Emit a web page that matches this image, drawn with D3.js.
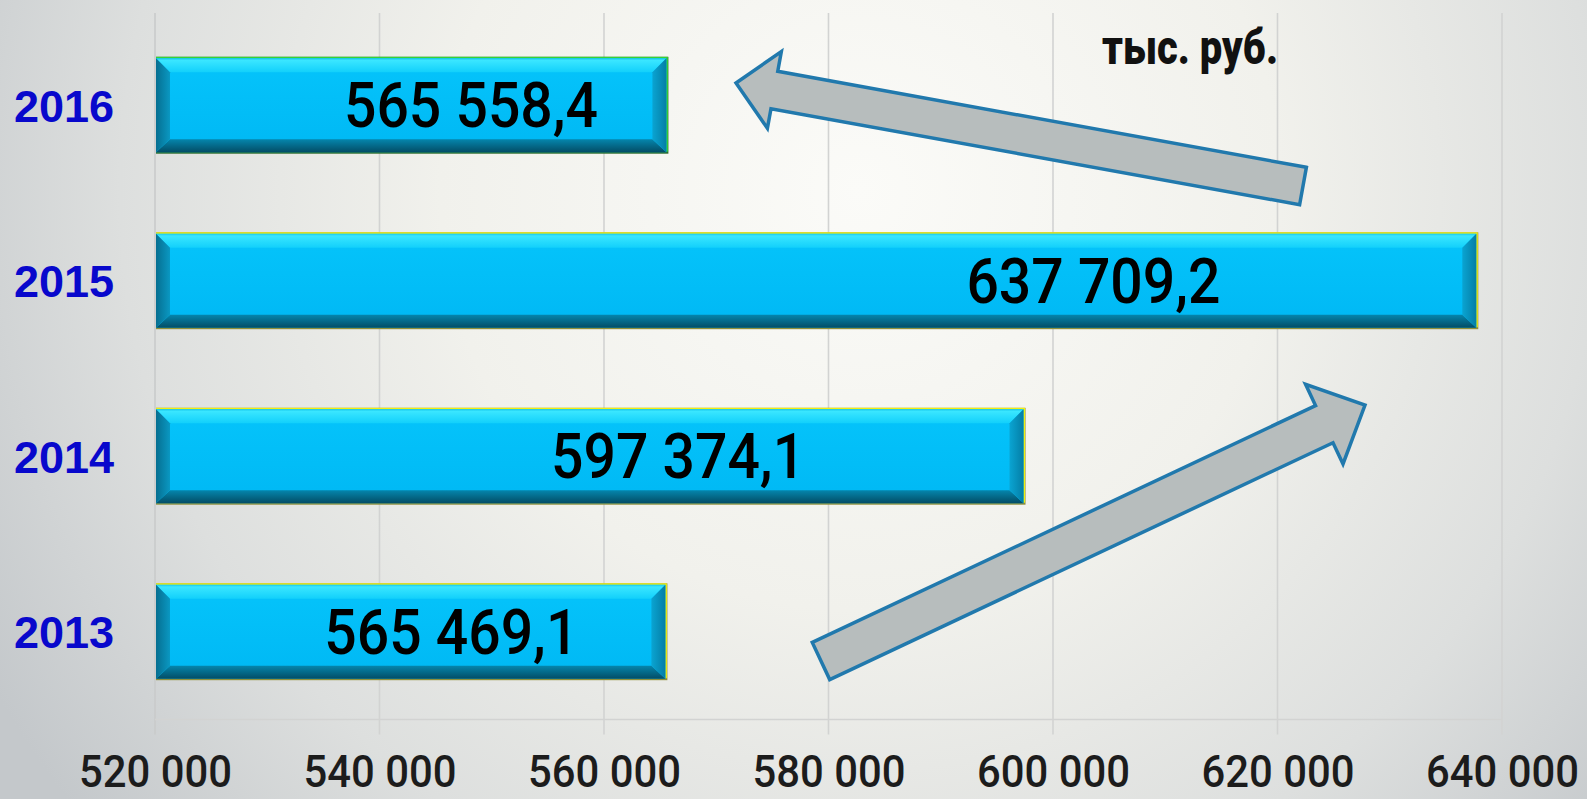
<!DOCTYPE html>
<html>
<head>
<meta charset="utf-8">
<script src="https://cdn.jsdelivr.net/npm/d3@7"></script>
<style>
  html, body { margin: 0; padding: 0; overflow: hidden; }
  svg { display: block; }
</style>
</head>
<body>
<svg id="chart"></svg>
<script>
// ─── Data ───────────────────────────────────────────────────────────────────

const years      = ['2016', '2015', '2014', '2013'];
const values     = [565558.4, 637709.2, 597374.1, 565469.1];
const tickValues = [520000, 540000, 560000, 580000, 600000, 620000, 640000];
const tickLabels = ['520 000', '540 000', '560 000', '580 000', '600 000', '620 000', '640 000'];
const unitLabel  = 'тыс. руб.';

// ─── Layout ─────────────────────────────────────────────────────────────────

const W = 1587;
const H = 799;

const LAYOUT = {
  plotLeft: 155, plotRight: 1502,
  plotTop: 17.5, plotBottom: 719.5,
  bandPadding: 0.465,
  bevel: 14,
  // value labels were placed by hand in the original, centre given in axis units
  labelCentre: { '2016': 548150, '2015': 603600, '2014': 566600, '2013': 546400 },
};

const NARROW = 'Roboto, "Liberation Sans", sans-serif';

// edge colours of the bars (top/right, bottom)
const EDGE = { '2016': ['#36d236', '#2c6c2c'] };
const EDGE_DEFAULT = ['#f2ee10', '#8f8f3a'];

const ruLocale = d3.formatLocale({ decimal: ',', thousands: '\u00a0', grouping: [3], currency: ['', ''] });
const fmt = ruLocale.format(',.1f');

// ─── Setup ──────────────────────────────────────────────────────────────────

const svg = d3.select('#chart').attr('width', W).attr('height', H);
const defs = svg.append('defs');

const bg = defs.append('radialGradient').attr('id', 'bg')
  .attr('gradientUnits', 'userSpaceOnUse')
  .attr('cx', 860).attr('cy', 190).attr('r', 1000);
bg.append('stop').attr('offset', 0).attr('stop-color', '#fbfbf8');
bg.append('stop').attr('offset', 0.42).attr('stop-color', '#f1f1ec');
bg.append('stop').attr('offset', 0.74).attr('stop-color', '#dddfde');
bg.append('stop').attr('offset', 1).attr('stop-color', '#c4c8cb');

function linGrad(id, stops, horizontal) {
  const g = defs.append('linearGradient').attr('id', id)
    .attr('x1', 0).attr('y1', 0)
    .attr('x2', horizontal ? 1 : 0).attr('y2', horizontal ? 0 : 1);
  stops.forEach(([o, c]) => g.append('stop').attr('offset', o).attr('stop-color', c));
}
linGrad('bevTop',    [[0, '#18c8ee'], [0.15, '#3ae6ff'], [1, '#12d0fb']]);
linGrad('bevBottom', [[0, '#0586ad'], [1, '#034d66']]);
linGrad('bevLeft',   [[0, '#066f91'], [1, '#0a98c2']], true);
linGrad('bevRight',  [[0, '#0aa4d2'], [1, '#047ea6']], true);
linGrad('face',      [[0, '#05c4fb'], [1, '#00b8f4']]);

svg.append('rect').attr('width', W).attr('height', H).attr('fill', 'url(#bg)');

// ─── Scales ─────────────────────────────────────────────────────────────────

const x = d3.scaleLinear()
  .domain([tickValues[0], tickValues[tickValues.length - 1]])
  .range([LAYOUT.plotLeft, LAYOUT.plotRight]);

const y = d3.scaleBand()
  .domain(years)
  .range([LAYOUT.plotTop, LAYOUT.plotBottom])
  .paddingInner(LAYOUT.bandPadding)
  .paddingOuter(LAYOUT.bandPadding / 2);

// ─── Grid ───────────────────────────────────────────────────────────────────

svg.append('g')
  .selectAll('line')
  .data(tickValues)
  .join('line')
  .attr('x1', d => x(d)).attr('x2', d => x(d))
  .attr('y1', 13).attr('y2', LAYOUT.plotBottom + 15)
  .attr('stroke', (d, i) => i === 0 ? '#c9cbcb' : '#d2d3d2')
  .attr('stroke-width', 1.6);

svg.append('line')
  .attr('x1', LAYOUT.plotLeft).attr('x2', LAYOUT.plotRight)
  .attr('y1', LAYOUT.plotBottom).attr('y2', LAYOUT.plotBottom)
  .attr('stroke', '#d2d3d2').attr('stroke-width', 1.6);

// ─── Axis labels ────────────────────────────────────────────────────────────

const xAxis = d3.axisBottom(x)
  .tickValues(tickValues)
  .tickFormat((d, i) => tickLabels[i])
  .tickSize(0)
  .tickPadding(0);

const axisG = svg.append('g').call(xAxis);
axisG.select('.domain').remove();
axisG.selectAll('text')
  .attr('y', 787).attr('dy', null)
  .attr('fill', '#1c1c1c')
  .attr('font-family', NARROW)
  .attr('font-weight', 500)
  .attr('font-size', 44)
  .attr('textLength', 153)
  .attr('lengthAdjust', 'spacingAndGlyphs');

const yAxis = d3.axisLeft(y).tickSize(0).tickPadding(0);
const yG = svg.append('g').call(yAxis);
yG.select('.domain').remove();
yG.selectAll('text')
  .attr('x', 114).attr('dy', null)
  .attr('y', 16.5)
  .attr('text-anchor', 'end')
  .attr('fill', '#0808cc')
  .attr('font-family', '"Liberation Sans", Arial, sans-serif')
  .attr('font-weight', 'bold')
  .attr('font-size', 45);

// ─── Bars ───────────────────────────────────────────────────────────────────

const b = LAYOUT.bevel;
const rows = years.map((yr, i) => ({ yr, v: values[i] }));

const bars = svg.append('g')
  .selectAll('g')
  .data(rows)
  .join('g');

bars.each(function (d) {
  const g = d3.select(this);
  const x0 = x(tickValues[0]) + 1, x1 = x(d.v);
  const y0 = y(d.yr), y1 = y0 + y.bandwidth();
  const [edgeTop, edgeBottom] = EDGE[d.yr] || EDGE_DEFAULT;
  const poly = pts => pts.map(p => p.join(',')).join(' ');

  // thin coloured rim
  g.append('rect')
    .attr('x', x0).attr('y', y0 - 1.5)
    .attr('width', x1 - x0 + 2).attr('height', y1 - y0 + 3)
    .attr('fill', edgeBottom);
  g.append('rect')
    .attr('x', x0).attr('y', y0 - 1.5)
    .attr('width', x1 - x0 + 1.5).attr('height', y1 - y0 + 1)
    .attr('fill', edgeTop);

  g.append('rect')
    .attr('x', x0).attr('y', y0)
    .attr('width', x1 - x0).attr('height', y1 - y0)
    .attr('fill', 'url(#face)');

  g.append('polygon').attr('fill', 'url(#bevTop)')
    .attr('points', poly([[x0, y0], [x1, y0], [x1 - b, y0 + b], [x0 + b, y0 + b]]));
  g.append('polygon').attr('fill', 'url(#bevBottom)')
    .attr('points', poly([[x0, y1], [x1, y1], [x1 - b, y1 - b + 1], [x0 + b, y1 - b + 1]]));
  g.append('polygon').attr('fill', 'url(#bevLeft)')
    .attr('points', poly([[x0, y0], [x0 + b, y0 + b], [x0 + b, y1 - b + 1], [x0, y1]]));
  g.append('polygon').attr('fill', 'url(#bevRight)')
    .attr('points', poly([[x1, y0], [x1 - b, y0 + b], [x1 - b, y1 - b + 1], [x1, y1]]));
});

// ─── Value labels ───────────────────────────────────────────────────────────

svg.append('g')
  .selectAll('text')
  .data(rows)
  .join('text')
  .attr('x', d => x(LAYOUT.labelCentre[d.yr]))
  .attr('y', d => y(d.yr) + y.bandwidth() / 2 + 22)
  .attr('text-anchor', 'middle')
  .attr('fill', '#000')
  .attr('font-family', NARROW)
  .attr('font-weight', 500)
  .attr('font-size', 63)
  .attr('textLength', 254)
  .attr('lengthAdjust', 'spacingAndGlyphs')
  .text(d => fmt(d.v));

// ─── Unit ───────────────────────────────────────────────────────────────────

svg.append('text')
  .attr('x', 1102).attr('y', 64)
  .attr('fill', '#111')
  .attr('font-family', NARROW)
  .attr('font-weight', 900)
  .attr('font-size', 48)
  .attr('textLength', 176)
  .attr('lengthAdjust', 'spacingAndGlyphs')
  .text(unitLabel);

// ─── Trend arrows ───────────────────────────────────────────────────────────
// tail centre -> tip, shaft width, head half-width, head length

function blockArrow([tx, ty], [hx, hy], shaft, headHalf, headLen) {
  const len = Math.hypot(hx - tx, hy - ty);
  const ux = (hx - tx) / len, uy = (hy - ty) / len;
  const nx = -uy, ny = ux;
  const s = shaft / 2;
  const bx = hx - ux * headLen, by = hy - uy * headLen;
  const P = (px, py, k) => [px + nx * k, py + ny * k];
  return [
    P(tx, ty, s), P(bx, by, s), P(bx, by, headHalf), [hx, hy],
    P(bx, by, -headHalf), P(bx, by, -s), P(tx, ty, -s),
  ];
}

const arrows = [
  blockArrow([1303, 186], [736, 83], 38, 39, 39),
  blockArrow([821, 661], [1365, 405], 41, 44, 45),
];

svg.append('g')
  .selectAll('path')
  .data(arrows)
  .join('path')
  .attr('d', d => d3.line()(d) + 'Z')
  .attr('fill', '#b7bdbd')
  .attr('stroke', '#2179ad')
  .attr('stroke-width', 3.5)
  .attr('stroke-linejoin', 'miter');
</script>
</body>
</html>
